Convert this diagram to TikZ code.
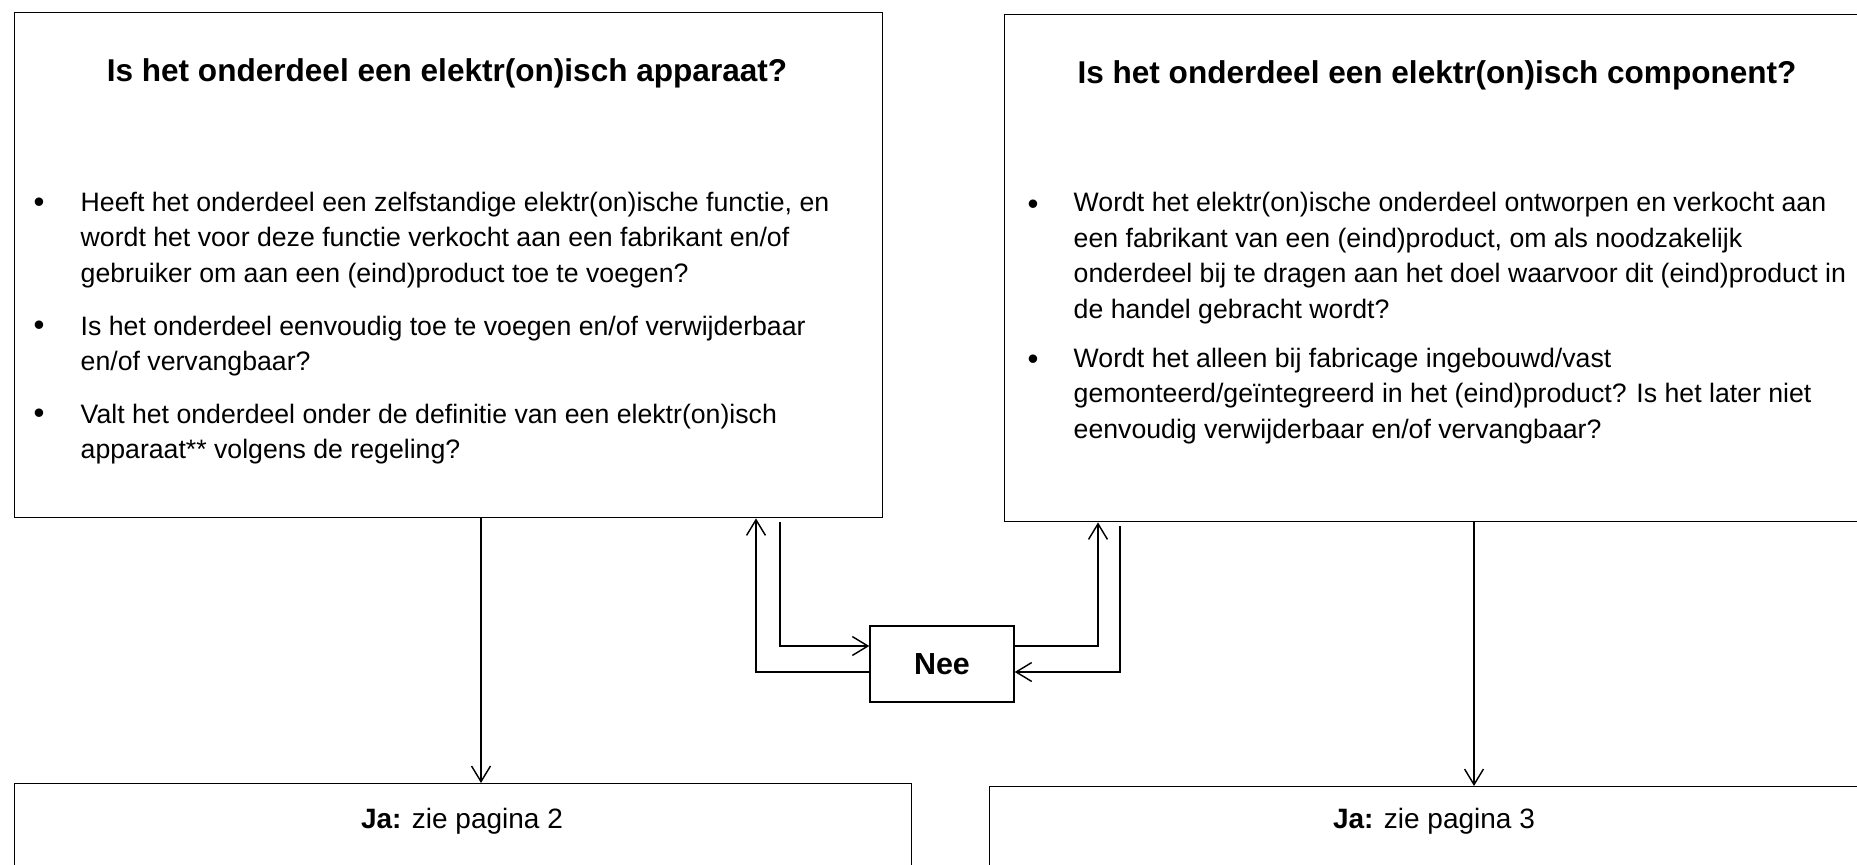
\documentclass[tikz,border=0pt]{standalone}
\usepackage{fontspec}
\setmainfont{Liberation Sans}
\usetikzlibrary{arrows.meta,positioning}
\newlength\px
\setlength\px{0.45pt}

\begin{document}
\begin{tikzpicture}[x=0.45pt,y=-0.45pt,line width=0.65pt,
            >={Straight Barb[length=7pt,width=8.5pt]},
            box node/.style={draw,anchor=north west,inner sep=0pt},
            title node/.style={font=\fontsize{14.2}{17}\selectfont\bfseries},
            text node/.style={font=\fontsize{12}{16}\selectfont,align=left,anchor=west,inner sep=0pt},
            dot node/.style={font=\fontsize{14}{16}\selectfont,inner sep=0pt},
            ja node/.style={font=\fontsize{12.6}{15}\selectfont}]

        \useasboundingbox (0,0) rectangle (1857,865);
        \clip (0,0) rectangle (1857,865);

        % Define boxes
        \node[box node,minimum width=868\px,minimum height=505\px] (app) at (14,12) {};
        \node[box node,minimum width=870\px,minimum height=507\px] (comp) at (1004,14) {};
        \node[box node,minimum width=897\px,minimum height=140\px] (ja2) at (14,783) {};
        \node[box node,minimum width=890\px,minimum height=140\px] (ja3) at (989,786) {};
        \node[draw,minimum width=144\px,minimum height=76\px,
              font=\fontsize{13.7}{16}\selectfont\bfseries] (nee) at (942,664) {Nee};

        % Texts in the boxes
        \node[title node] (apptitle) at (447,73) {Is het onderdeel een elektr(on)isch apparaat?};
        \node[dot node] (appdot1) at (39,205) {\textbullet};
        \node[text node] (apptext1) at (80,240) {Heeft het onderdeel een zelfstandige elektr(on)ische functie, en\\
            wordt het voor deze functie verkocht aan een fabrikant en/of\\
            gebruiker om aan een (eind)product toe te voegen?};
        \node[dot node] (appdot2) at (39,328) {\textbullet};
        \node[text node] (apptext2) at (80,346) {Is het onderdeel eenvoudig toe te voegen en/of verwijderbaar\\
            en/of vervangbaar?};
        \node[dot node] (appdot3) at (39,416) {\textbullet};
        \node[text node] (apptext3) at (80,434) {Valt het onderdeel onder de definitie van een elektr(on)isch\\
            apparaat** volgens de regeling?};

        \node[title node] (comptitle) at (1437,75) {Is het onderdeel een elektr(on)isch component?};
        \node[dot node] (compdot1) at (1033,207) {\textbullet};
        \node[text node] (comptext1) at (1073,258) {Wordt het elektr(on)ische onderdeel ontworpen en verkocht aan\\
            een fabrikant van een (eind)product, om als noodzakelijk\\
            onderdeel bij te dragen aan het doel waarvoor dit (eind)product in\\
            de handel gebracht wordt?};
        \node[dot node] (compdot2) at (1033,362) {\textbullet};
        \node[text node] (comptext2) at (1073,396) {Wordt het alleen bij fabricage ingebouwd/vast\\
            gemonteerd/geïntegreerd in het (eind)product? Is het later niet\\
            eenvoudig verwijderbaar en/of vervangbaar?};

        \node[ja node] (ja2text) at (462,821) {\textbf{Ja:} zie pagina 2};
        \node[ja node] (ja3text) at (1434,821) {\textbf{Ja:} zie pagina 3};

        % Connector positions
        \coordinate (appdown) at (481,0);
        \coordinate (compdown) at (1474,0);
        \coordinate (appin) at (756,0);
        \coordinate (appout) at (780,0);
        \coordinate (compin) at (1098,0);
        \coordinate (compout) at (1120,0);
        \coordinate (upper) at (0,646);
        \coordinate (lower) at (0,672);

        % Draw edges
        \draw[->] (app.south -| appdown) -- (ja2.north -| appdown);
        \draw[->] (comp.south -| compdown) -- (ja3.north -| compdown);
        \draw[->,shorten <=1.5pt] (app.south -| appout) |- (nee.west |- upper);
        \draw[->] (nee.west |- lower) -| (app.south -| appin);
        \draw[->] (nee.east |- upper) -| (comp.south -| compin);
        \draw[->,shorten <=1.5pt] (comp.south -| compout) |- (nee.east |- lower);

\end{tikzpicture}
\end{document}
